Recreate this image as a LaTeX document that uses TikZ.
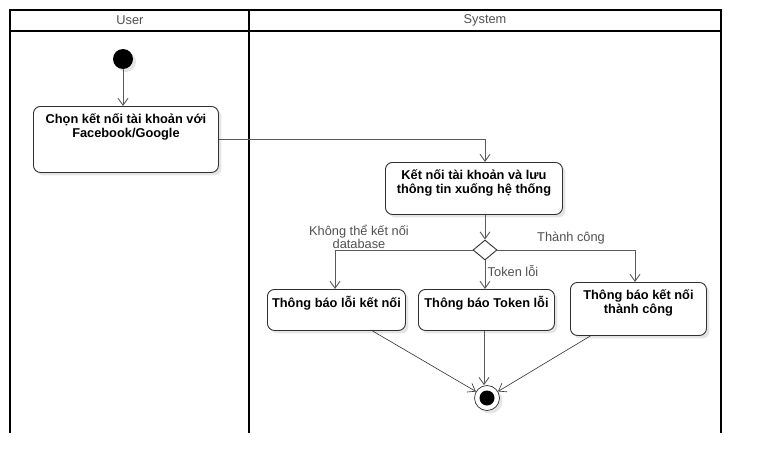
\documentclass[tikz,border=0pt]{standalone}
\usepackage{fontspec}
\setmainfont{Liberation Sans}
\usetikzlibrary{arrows.meta,shapes.geometric,shadows,calc}
\definecolor{lanecol}{HTML}{000000}
\definecolor{linecol}{HTML}{5A5A5A}
\definecolor{boxcol}{HTML}{303030}
\definecolor{txtgray}{HTML}{505050}
\tikzset{
  act/.style={draw=boxcol, line width=0.9pt, rounded corners=7pt, fill=white, inner sep=0pt,
    drop shadow={shadow xshift=3pt, shadow yshift=-3pt, fill=black, opacity=0.10}},
  flow/.style={draw=linecol, line width=0.9pt, -{Straight Barb[length=7pt,width=10pt]}},
  thinflow/.style={draw=boxcol, line width=0.6pt, -{Straight Barb[length=7pt,width=10pt]}},
  lbl/.style={text=txtgray, font=\fontsize{12.8}{12.5}\selectfont, align=center, inner sep=0pt},
  hdr/.style={text=txtgray, font=\fontsize{12.8}{13}\selectfont, inner sep=0pt},
  lane/.style={draw=lanecol, line width=1.8pt},
}
\newcommand{\acttext}[3]{\parbox[c][#2pt][t]{#1pt}{\centering\vspace*{7pt}\fontsize{12.8}{14.5}\bfseries\selectfont #3}}
\begin{document}
\begin{tikzpicture}[x=1pt,y=-1pt]
\useasboundingbox (0,0) rectangle (762,474);
% swimlane frame
\draw[lane] (10,433) -- (10,10) -- (721,10) -- (721,433);
\draw[lane] (249,10) -- (249,433);
\draw[lane] (10,31) -- (721,31);
\node[hdr] (hu) at (130,20.5) {User};
\node[hdr] (hs) at (485,20.5) {System};
% start
\node[circle, fill=black, minimum size=20pt, inner sep=0pt,
  drop shadow={shadow xshift=3pt, shadow yshift=-3pt, fill=black, opacity=0.10}] (start) at (123,59) {};
% actions
\node[act, anchor=north west] (b1) at (33,106) {\acttext{185}{66}{Chọn kết nối tài khoản với\\Facebook/Google}};
\node[act, anchor=north west] (b2) at (385,162) {\acttext{177}{52}{Kết nối tài khoản và lưu\\thông tin xuống hệ thống}};
\node[draw=boxcol, line width=0.9pt, fill=white, diamond, minimum width=24pt, minimum height=20pt, inner sep=0pt] (dia) at (485,250) {};
\node[act, anchor=north west] (b3) at (267,289) {\acttext{138}{41}{Thông báo lỗi kết nối}};
\node[act, anchor=north west] (b4) at (418,289) {\acttext{136}{41}{Thông báo Token lỗi}};
\node[act, anchor=north west] (b5) at (570,282) {\acttext{136}{53}{Thông báo kết nối\\thành công}};
% final
\node[circle, draw=boxcol, line width=0.7pt, fill=white, minimum size=25pt, inner sep=0pt,
  drop shadow={shadow xshift=3pt, shadow yshift=-3pt, fill=black, opacity=0.10}] (fin) at (487,398) {};
\node[circle, fill=black, minimum size=15pt, inner sep=0pt] (fini) at (fin.center) {};
% flows
\draw[flow] (start) -- (b1.north -| start);
\draw[flow] (b1.east) -| (b2.north -| dia);
\draw[flow] (b2.south -| dia) -- (dia.north);
\draw[flow] (dia.west) -| (b3.north -| 335,0);
\draw[flow] (dia.south) -- (b4.north -| dia);
\draw[flow] (dia.east) -| (b5.north -| 635,0);
\draw[thinflow] ([xshift=36pt]b3.south) -- (fin);
\draw[flow] (b4.south -| 484,0) -- (fin.north -| 484,0);
\draw[thinflow] ([xshift=-48pt]b5.south) -- (fin);
% labels
\node[lbl] (l1) at (359,237) {Không thể kết nối\\database};
\node[lbl] (l2) at (571,238) {Thành công};
\node[lbl] (l3) at (513,271) {Token lỗi};
\end{tikzpicture}
\end{document}
